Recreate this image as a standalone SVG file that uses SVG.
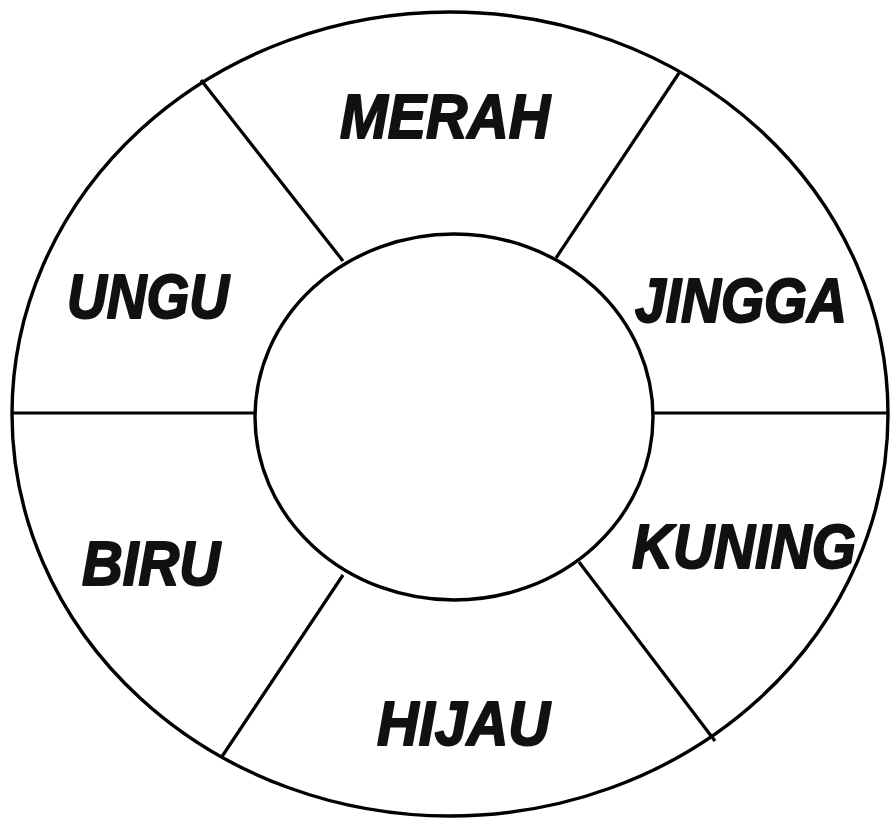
<svg xmlns="http://www.w3.org/2000/svg" width="890" height="819" viewBox="0 0 890 819">
<style>
.ring{fill:none;stroke:#000;stroke-width:3.4}
.div{stroke:#000;stroke-width:3.2;fill:none}
.lbl{font-family:"Liberation Sans",Arial,sans-serif;font-weight:bold;font-style:italic;font-size:63px;fill:#111;stroke:#111;stroke-width:2;stroke-linejoin:round}
</style>
<rect width="890" height="819" fill="#fff"/>
<g id="outer"><ellipse class="ring" cx="450" cy="414" rx="438" ry="402"/></g>
<g id="inner"><ellipse class="ring" cx="454" cy="417" rx="199" ry="183"/></g>
<g id="connectors">
<line class="div" x1="201" y1="80" x2="343" y2="261"/>
<line class="div" x1="679" y1="73" x2="556" y2="258"/>
<line class="div" x1="12" y1="413" x2="255" y2="413"/>
<line class="div" x1="653" y1="413" x2="888" y2="413"/>
<line class="div" x1="343" y1="575" x2="221" y2="758"/>
<line class="div" x1="579" y1="562" x2="715" y2="741"/>
</g>
<g id="merah"><text class="lbl" x="340" y="138" textLength="210" lengthAdjust="spacingAndGlyphs">MERAH</text></g>
<g id="ungu"><text class="lbl" x="67" y="318" textLength="162" lengthAdjust="spacingAndGlyphs">UNGU</text></g>
<g id="jingga"><text class="lbl" x="635" y="322" textLength="212" lengthAdjust="spacingAndGlyphs">JINGGA</text></g>
<g id="biru"><text class="lbl" x="82" y="585" textLength="138" lengthAdjust="spacingAndGlyphs">BIRU</text></g>
<g id="kuning"><text class="lbl" x="632" y="568" textLength="224" lengthAdjust="spacingAndGlyphs">KUNING</text></g>
<g id="hijau"><text class="lbl" x="377" y="745" textLength="173" lengthAdjust="spacingAndGlyphs">HIJAU</text></g>
</svg>
